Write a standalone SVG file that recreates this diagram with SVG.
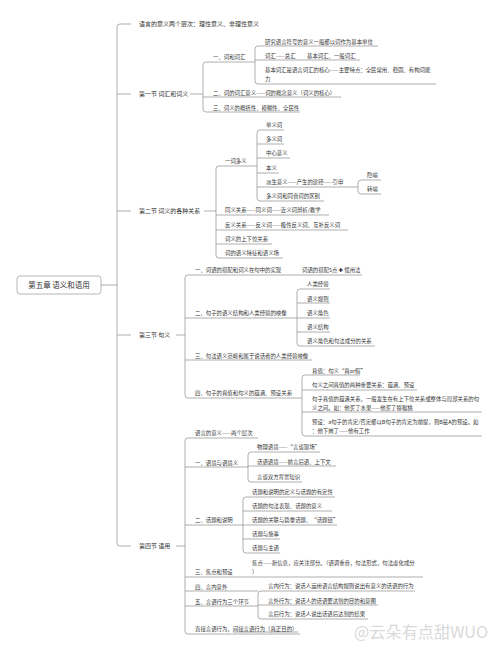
<svg xmlns="http://www.w3.org/2000/svg" width="500" height="652" viewBox="0 0 500 652">
<style>
text{font-family:"Noto Sans CJK SC","Noto Sans",sans-serif;fill:#333}
.t{font-size:5.4px}
.t1{font-size:6px}
.r{font-size:7.5px;text-anchor:middle}
.ul,.c{fill:none;stroke:#8c8c8c;stroke-width:0.7}
.wm{font-size:16px;fill:#d9d9d9;font-family:"Noto Sans CJK SC","DejaVu Sans",sans-serif}
</style>
<rect width="500" height="652" fill="#fff"/>
<g id="connectors">
<path class="c" d="M101,285H117M131,24H120Q117,24 117,27V543Q117,546 120,546H131M117,94H131M117,211H131M117,335H131"/>
<path class="c" d="M190,94H203M206,62Q203,62 203,65V109Q203,112 206,112"/>
<path class="c" d="M258,46Q255,46 255,49V81Q255,84 258,84"/>
<path class="c" d="M204,211H216M219,166Q216,166 216,169V255Q216,258 219,258"/>
<path class="c" d="M260,130Q257,130 257,133V198Q257,201 260,201"/>
<path class="c" d="M361,180Q358,180 358,183V191Q358,194 361,194"/>
<path class="c" d="M176,335H185M188,275Q185,275 185,278V395Q185,398 188,398"/>
<path class="c" d="M300,289Q297,289 297,292V343Q297,346 300,346"/>
<path class="c" d="M305,375Q302,375 302,378V433Q302,436 305,436"/>
<path class="c" d="M176,546H185M188,438Q185,438 185,441V631Q185,634 188,634"/>
<path class="c" d="M251,452Q248,452 248,455V479Q248,482 251,482"/>
<path class="c" d="M246,497Q243,497 243,500V550Q243,553 246,553"/>
<path class="c" d="M261,591Q258,591 258,594V616Q258,619 261,619"/>
</g>
<g id="root"><rect x="17" y="276" width="84" height="18" rx="3" fill="#fff" stroke="#999" stroke-width="0.7"/><text class="r" x="59" y="287.6">第五章 语义和语用</text></g>
<g id="l0"><text class="t1" x="139" y="26.1">语言的意义两个层次：理性意义、非理性意义</text></g>
<g id="s1"><text class="t1" x="139" y="96.1">第一节 词汇和词义</text></g>
<g id="s2"><text class="t1" x="139" y="213.1">第二节 词义的各种关系</text></g>
<g id="s3"><text class="t1" x="139" y="337.1">第三节 句义</text></g>
<g id="s4"><text class="t1" x="139" y="548.1">第四节 语用</text></g>

<g id="s1a"><text class="t" x="213" y="58.9">一、词和词汇</text><path class="ul" d="M206,62H255"/></g>
<g id="s1a1"><text class="t" x="265" y="43.9">研究语言符号的意义一般都以词作为基本单位</text><path class="ul" d="M258,46H378"/></g>
<g id="s1a2"><text class="t" x="265" y="57.9">词汇——总汇<tspan x="307">基本词汇、一般词汇</tspan></text><path class="ul" d="M255,60H360"/></g>
<g id="s1a3"><text class="t" x="265" y="71.9">基本词汇是语言词汇的核心——主要特点：全民常用、稳固、有构词能</text><text class="t" x="265" y="80.9">力</text><path class="ul" d="M258,84H436"/></g>
<g id="s1b"><text class="t" x="213" y="94.9">二、词的词汇意义——词的概念意义（词义的核心）</text><path class="ul" d="M203,97H341"/></g>
<g id="s1c"><text class="t" x="213" y="109.9">三、词义的概括性、模糊性、全民性</text><path class="ul" d="M206,112H300"/></g>

<g id="s2a"><text class="t" x="225" y="162.9">一词多义</text><path class="ul" d="M219,166H257"/></g>
<g id="s2a1"><text class="t" x="266" y="126.9">单义词</text><path class="ul" d="M260,130H284"/></g>
<g id="s2a2"><text class="t" x="266" y="140.9">多义词</text><path class="ul" d="M257,144H284"/></g>
<g id="s2a3"><text class="t" x="266" y="154.9">中心意义</text><path class="ul" d="M257,158H290"/></g>
<g id="s2a4"><text class="t" x="266" y="169.9">本义</text><path class="ul" d="M257,173H279"/></g>
<g id="s2a5"><text class="t" x="266" y="183.9">派生意义——产生的途径——引申</text><path class="ul" d="M257,187H358"/></g>
<g id="s2a5a"><text class="t" x="367" y="176.9">隐喻</text><path class="ul" d="M361,180H381"/></g>
<g id="s2a5b"><text class="t" x="367" y="190.9">转喻</text><path class="ul" d="M361,194H381"/></g>
<g id="s2a6"><text class="t" x="266" y="197.9">多义词和同音词的区别</text><path class="ul" d="M260,201H324"/></g>
<g id="s2b"><text class="t" x="225" y="211.9">同义关系——同义词——近义词辨析/教学</text><path class="ul" d="M216,215H329"/></g>
<g id="s2c"><text class="t" x="225" y="226.9">反义关系——反义词——极性反义词、互补反义词</text><path class="ul" d="M216,230H348"/></g>
<g id="s2d"><text class="t" x="225" y="240.9">词义的上下位关系</text><path class="ul" d="M216,244H272"/></g>
<g id="s2e"><text class="t" x="225" y="254.9">词的语义特征和语义场</text><path class="ul" d="M219,258H283"/></g>

<g id="s3a"><text class="t" x="195" y="271.9">一、词语的搭配和词义在句中的实现</text><path class="ul" d="M188,275H362"/></g>
<g id="s3a1"><text class="t" x="302" y="271.9">词语的搭配5点 <tspan style="font-family:'DejaVu Sans';font-weight:bold;fill:#111">✚</tspan> 惯用法</text></g>
<g id="s3b"><text class="t" x="195" y="314.9">二、句子的语义结构和人类经验的映像</text><path class="ul" d="M185,318H297"/></g>
<g id="s3b1"><text class="t" x="307" y="285.9">人类经验</text><path class="ul" d="M300,289H330"/></g>
<g id="s3b2"><text class="t" x="307" y="300.9">语义规则</text><path class="ul" d="M297,303H330"/></g>
<g id="s3b3"><text class="t" x="307" y="314.9">语义角色</text><path class="ul" d="M297,318H330"/></g>
<g id="s3b4"><text class="t" x="307" y="328.9">语义结构</text><path class="ul" d="M297,332H330"/></g>
<g id="s3b5"><text class="t" x="307" y="342.9">语义角色和句法成分的关系</text><path class="ul" d="M300,346H375"/></g>
<g id="s3c"><text class="t" x="195" y="357.9">三、句法语义范畴和属于说话者的人类经验映像</text><path class="ul" d="M185,360H312"/></g>
<g id="s3d"><text class="t" x="195" y="394.9">四、句子的真值和句义的蕴涵、预设关系</text><path class="ul" d="M188,398H302"/></g>
<g id="s3d1"><text class="t" x="312" y="372.9">真值：句义“真or假”</text><path class="ul" d="M305,375H360"/></g>
<g id="s3d2"><text class="t" x="312" y="386.9">句义之间真值的两种重要关系：蕴涵、预设</text><path class="ul" d="M302,390H417"/></g>
<g id="s3d3"><text class="t" x="312" y="400.9">句子真值的蕴涵关系，一般发生在有上下位关系或整体与局部关系的句</text><text class="t" x="312" y="409.9">义之间。如：他买了水果——他买了猕猴桃</text><path class="ul" d="M302,412H482"/></g>
<g id="s3d4"><text class="t" x="312" y="423.9">预设：a句子的肯定/否定都以B句子的肯定为前提，则B是A的预设。如</text><text class="t" x="312" y="432.9">：他下岗了——他有工作</text><path class="ul" d="M305,436H482"/></g>

<g id="s4a"><text class="t" x="195" y="434.9">语言的意义——两个层次</text><path class="ul" d="M188,438H258"/></g>
<g id="s4b"><text class="t" x="195" y="464.9">一、语境与语境义</text><path class="ul" d="M185,467H248"/></g>
<g id="s4b1"><text class="t" x="257" y="448.9">物理语境——“言谈现场”</text><path class="ul" d="M251,452H320"/></g>
<g id="s4b2"><text class="t" x="257" y="463.9">话语语境——前言后语、上下文</text><path class="ul" d="M248,466H336"/></g>
<g id="s4b3"><text class="t" x="257" y="478.9">言谈双方背景知识</text><path class="ul" d="M251,482H302"/></g>
<g id="s4c"><text class="t" x="195" y="521.9">二、话题和说明</text><path class="ul" d="M185,525H243"/></g>
<g id="s4c1"><text class="t" x="252" y="493.9">话题和说明的定义与话题的有定性</text><path class="ul" d="M246,497H335"/></g>
<g id="s4c2"><text class="t" x="252" y="507.9">话题的句法表现、话题的意义</text><path class="ul" d="M243,511H332"/></g>
<g id="s4c3"><text class="t" x="252" y="521.9">话题的关联与篇章话题、“话题链”</text><path class="ul" d="M243,525H337"/></g>
<g id="s4c4"><text class="t" x="252" y="535.9">话题与施事</text><path class="ul" d="M243,539H280"/></g>
<g id="s4c5"><text class="t" x="252" y="549.9">话题与主语</text><path class="ul" d="M246,553H280"/></g>
<g id="s4d"><text class="t" x="195" y="573.9">三、焦点和预设</text><path class="ul" d="M185,577H423"/></g>
<g id="s4d1"><text class="t" x="252" y="564.9">焦点——新信息，应关注部分。（语调重音，句法形式，句法虚化成分</text><text class="t" x="252" y="573.9">）</text></g>
<g id="s4e"><text class="t" x="195" y="588.9">四、言内意外</text><path class="ul" d="M185,591H258"/></g>
<g id="s4f"><text class="t" x="195" y="603.9">五、言语行为三个环节</text><path class="ul" d="M185,606H258"/></g>
<g id="s4f1"><text class="t" x="268" y="587.9">言内行为：说话人运用语言结构规则说出有意义的话语的行为</text><path class="ul" d="M261,591H415"/></g>
<g id="s4f2"><text class="t" x="268" y="602.9">言外行为：说话人的话语要达到的目的和意图</text><path class="ul" d="M258,605H378"/></g>
<g id="s4f3"><text class="t" x="268" y="615.9">言后行为：说话人说出话语后达到的结果</text><path class="ul" d="M261,619H368"/></g>
<g id="s4g"><text class="t" x="195" y="630.9">直接言语行为，间接言语行为（真正目的）</text><path class="ul" d="M233,632H298" style="stroke:#555;stroke-width:0.5"/><path class="ul" d="M188,634H300"/></g>
<text class="wm" x="354" y="638" textLength="134" lengthAdjust="spacingAndGlyphs">@云朵有点甜WUO</text>
</svg>
